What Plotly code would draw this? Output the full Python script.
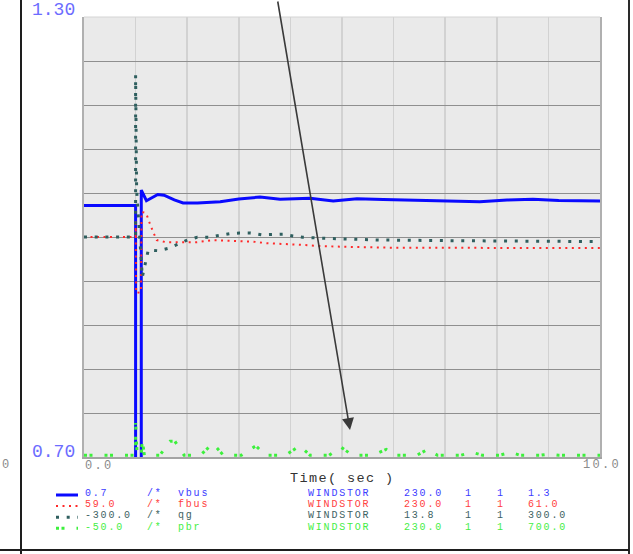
import plotly.graph_objects as go

# ---------------- data ----------------
time_vbus = [0.0, 1.0, 1.0, 1.11, 1.11, 1.21, 1.43, 1.55, 1.75, 1.92, 2.2, 2.64, 3.0, 3.41, 3.8,
             4.1, 4.38, 4.83, 5.29, 5.8, 6.12, 6.9, 7.67, 8.2, 8.7, 9.2, 10.0]
vbus = [1.043, 1.043, 0.35, 0.35, 1.064, 1.0495, 1.058, 1.057, 1.0505, 1.0464, 1.0464, 1.0481,
        1.0518, 1.0545, 1.0514, 1.0518, 1.0528, 1.0491, 1.0522, 1.0511, 1.0505, 1.0487, 1.0481,
        1.0505, 1.0514, 1.0498, 1.0491]

time_fbus = [0.0, 1.0, 1.003, 1.01, 1.105, 1.115, 1.19, 1.21, 1.25, 1.29, 1.34, 1.41, 1.6, 1.8,
             2.18, 2.5, 3.02, 3.28, 3.54, 3.86, 4.05, 4.24, 4.48, 4.96, 6.0, 7.3, 8.06, 10.0]
fbus = [60.0, 60.0, 60.077, 59.745, 59.75, 60.114, 60.11, 60.105, 60.077, 60.05, 60.023, 59.986,
        59.976, 59.976, 59.976, 59.986, 59.983, 59.979, 59.972, 59.969, 59.969, 59.964, 59.96,
        59.956, 59.951, 59.951, 59.95, 59.95]

time_qg = [0.0, 1.0, 1.0, 1.02, 1.13, 1.246, 1.44, 1.634, 1.83, 2.0, 2.196, 2.41, 2.62, 2.82,
           3.02, 3.23, 3.44, 3.64, 3.86, 4.05, 4.24, 4.67, 5.09, 5.72, 7.16, 8.81, 10.0]
qg = [0.0, 0.0, 221.0, 64.0, -54.5, -17.7, -18.7, -15.4, -9.5, -4.1, -0.4, -0.4, 2.3, 4.5,
      5.5, 5.5, 3.1, 3.7, 3.7, 1.4, -0.4, -1.8, -2.7, -4.1, -5.0, -5.8, -6.3]

time_pbr = [0.0, 1.0, 1.0, 1.03, 1.11, 1.13, 1.17, 1.47, 1.67, 1.76, 1.94, 2.25, 2.5, 2.7,
            3.05, 3.33, 3.52, 3.9, 4.18, 4.38, 4.75, 4.98, 5.2, 5.6, 5.86, 6.02, 6.45, 6.66,
            6.85, 7.3, 7.52, 7.72, 8.05, 8.27, 8.45, 8.85, 9.02, 9.2, 10.0]
pbr = [-47, -47, 8, -47, -47, -20, -47, -47, -23, -23, -47, -47, -27, -47,
       -47, -31, -47, -47, -31, -47, -47, -33, -47, -47, -37, -47, -47, -37,
       -47, -47, -42, -47, -47, -42, -47, -47, -45, -47, -47]

chan_names = ["vbus", "fbus", "qg", "pbr"]
chan_min = [0.7, 59.0, -300.0, -50.0]
chan_max = [1.3, 61.0, 300.0, 700.0]
bus_names = ["WINDSTOR", "WINDSTOR", "WINDSTOR", "WINDSTOR"]
base_kv = ["230.0", "230.0", "13.8", "230.0"]
id_a = ["1", "1", "1", "1"]
id_b = ["1", "1", "1", "1"]
time_range = [0.0, 10.0]
x_label = "Time( sec )"

# ---------------- styling ----------------
W, H = 633, 554
L, R, T, B = 84, 33, 17, 97
PW, PH = W - L - R, H - T - B
MONO = "Liberation Mono, Courier New, monospace"

line_colors = ["#0a0aff", "#ff2a2a", "#2f5f5f", "#3cf03c"]
text_colors = ["#3c3cff", "#ff4040", "#3d6262", "#44ee44"]
line_widths = [3, 2, 3, 3]
line_dashes = ["solid", "2px,4.5px", "3px,7.7px", "3px,2.5px,3px,12px"]


def px(x):
    return (x - L) / PW


def py(y):
    return (H - B - y) / PH


series = [(time_vbus, vbus), (time_fbus, fbus), (time_qg, qg), (time_pbr, pbr)]
axes = ["y", "y2", "y3", "y4"]

fig = go.Figure()
for i, (tx, vy) in enumerate(series):
    fig.add_trace(go.Scatter(
        x=tx, y=vy, mode="lines", yaxis=axes[i], name=chan_names[i],
        line=dict(color=line_colors[i], width=line_widths[i], dash=line_dashes[i]),
        hoverinfo="skip",
    ))

grid_y = [round(chan_min[0] + k * (chan_max[0] - chan_min[0]) / 10, 2) for k in range(1, 10)]

layout = dict(
    width=W, height=H,
    margin=dict(l=L, r=R, t=T, b=B, pad=0),
    paper_bgcolor="white", plot_bgcolor="#eaeaea",
    showlegend=False,
    hovermode=False,
    xaxis=dict(range=time_range, tickvals=list(range(1, 10)), showticklabels=False,
               showgrid=True, gridcolor="#d2d2d2", gridwidth=1.5, zeroline=False,
               showline=True, linecolor="#a4a4a4", linewidth=2, ticks=""),
    yaxis=dict(range=[chan_min[0], chan_max[0]], tickvals=grid_y, showticklabels=False,
               showgrid=True, gridcolor="#8f8f8f", gridwidth=1, zeroline=False,
               showline=True, mirror=True, linecolor="#b0b0b0", linewidth=2, ticks=""),
)
for i in range(1, 4):
    layout["yaxis%d" % (i + 1)] = dict(range=[chan_min[i], chan_max[i]], overlaying="y",
                                       visible=False, showgrid=False, zeroline=False)
fig.update_layout(**layout)

ann = []


def txt(s, x, y, color, size, xanchor="left", yanchor="middle", spacing=0.0):
    if spacing:
        s = '<span style="letter-spacing:%.2fpx">%s</span>' % (spacing, s)
    ann.append(dict(text=s, xref="paper", yref="paper", x=px(x), y=py(y), xanchor=xanchor,
                    yanchor=yanchor, showarrow=False, borderpad=0, borderwidth=0,
                    font=dict(family=MONO, size=size, color=color)))


# axis end labels
txt("%.2f" % chan_max[0], 75, 10.5, "#6c6cff", 18, xanchor="right")
txt("%.2f" % chan_min[0], 75, 451.7, "#6c6cff", 18, xanchor="right")
txt("%.1f" % time_range[0], 84.5, 465.5, "#8a8a8a", 12, spacing=2.3)
txt("%.1f" % time_range[1], 601.5, 465.2, "#8a8a8a", 12, xanchor="center", spacing=2.3)
txt("0", 5, 465, "#8a8a8a", 12, xanchor="center")
txt(x_label, 342, 478.5, "#333333", 13.5, xanchor="center", spacing=1.4)

# legend table
row_y = [493.0, 504.4, 515.7, 527.4]
sample_y = [495, 506, 517.3, 528.3]
LS = 1.8
LF = 10
for i in range(4):
    c = text_colors[i]
    y = row_y[i]
    txt(str(chan_min[i]), 85, y, c, LF, spacing=LS)
    txt("/*", 147, y, c, LF, spacing=LS)
    txt(chan_names[i], 178, y, c, LF, spacing=LS)
    txt(bus_names[i], 308, y, c, LF, spacing=LS)
    txt(base_kv[i], 404, y, c, LF, spacing=LS)
    txt(id_a[i], 465, y, c, LF, spacing=LS)
    txt(id_b[i], 497, y, c, LF, spacing=LS)
    txt(str(chan_max[i]), 528, y, c, LF, spacing=LS)

# arrow
ann.append(dict(text="", x=5.155, y=0.7368, xref="x", yref="y", showarrow=True,
                ax=-72.5, ay=-435, arrowhead=2, arrowsize=1.5, arrowwidth=1.6,
                arrowcolor="#3a3a3a"))

shapes = []
for i in range(4):
    shapes.append(dict(type="line", xref="paper", yref="paper", x0=px(56), x1=px(78),
                       y0=py(sample_y[i]), y1=py(sample_y[i]),
                       line=dict(color=line_colors[i], width=line_widths[i], dash=line_dashes[i])))
# frame lines
shapes += [
    dict(type="line", xref="paper", yref="paper", x0=px(21), x1=px(21), y0=py(0), y1=py(554),
         line=dict(color="#1e1e1e", width=2)),
    dict(type="line", xref="paper", yref="paper", x0=px(629), x1=px(629), y0=py(0), y1=py(554),
         line=dict(color="#2a2a2a", width=2)),
    dict(type="line", xref="paper", yref="paper", x0=px(0), x1=px(629), y0=py(550), y1=py(550),
         line=dict(color="#1e1e1e", width=2)),
    dict(type="line", xref="paper", yref="paper", x0=0, x1=1, y0=1, y1=1,
         line=dict(color="#d4d4d4", width=1)),
]
fig.update_layout(annotations=ann, shapes=shapes)

fig.write_html("out.html", config={"displayModeBar": False, "staticPlot": True},
               post_script="document.body.style.margin='0';document.body.style.overflow='hidden';")
